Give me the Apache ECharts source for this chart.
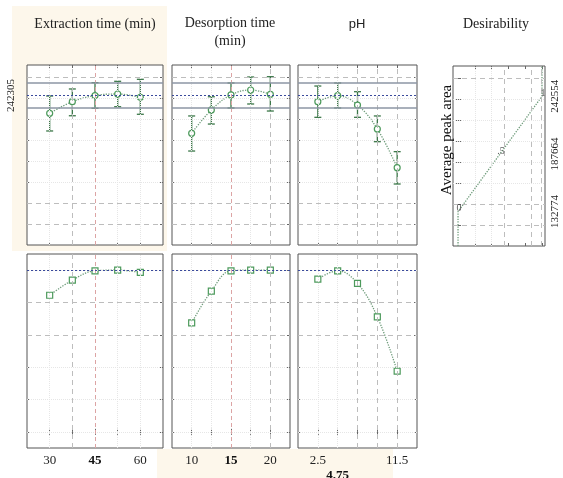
<!DOCTYPE html>
<html><head><meta charset="utf-8">
<script src="https://cdn.jsdelivr.net/npm/echarts@6/dist/echarts.min.js"></script>
<style>html,body{margin:0;padding:0;background:#fff}#c{width:563px;height:478px}</style>
</head><body><div id="c"></div>
<script>
// ---------- data ----------
const extLevels = [30, 37.5, 45, 52.5, 60];
const extMean = [225400, 236500, 242300, 243800, 240700];
const extLow  = [208600, 223100, 230200, 231700, 224500];
const extHigh = [241900, 248600, 254600, 255900, 257800];
const extDesir = [0.845, 0.938, 0.996, 1.0, 0.986];

const desLevels = [10, 12.5, 15, 17.5, 20];
const desMean = [206400, 228600, 242900, 247600, 243500];
const desLow  = [189500, 215200, 230500, 234300, 227600];
const desHigh = [222900, 241200, 254300, 260000, 260300];
const desDesir = [0.674, 0.870, 0.996, 1.0, 1.0];

const phLevels = [2.5, 4.75, 7, 9.25, 11.5];
const phMean = [236500, 242200, 233300, 210500, 173600];
const phLow  = [221600, 230500, 221600, 198400, 158100];
const phHigh = [251400, 254300, 246000, 222900, 188900];
const phDesir = [0.944, 0.996, 0.918, 0.711, 0.375];

const optimumValue = 242305;
const ciLow = 230480, ciHigh = 254290;
const optimumDesir = 0.998;
const desirValues = [132774, 187664, 242554];
const desirScores = [0, 0.5, 1];
const desirScoreLabels = ['0', '.5', '1'];
const factorTitles = ['Extraction time (min)', 'Desorption time\n(min)', 'pH', 'Desirability'];
const xTickLabels = [[30, 45, 60], [10, 15, 20], [2.5, 4.75, 11.5]];
const boldTicks = [45, 15, 4.75];
const responseName = 'Average peak area';
const responseTicks = [120000, 140000, 160000, 180000, 200000, 220000, 240000, 260000];
const desirTicks = [0, 0.2, 0.4, 0.6, 0.8, 1.0];

// ---------- layout / styles ----------
const SERIF = 'Liberation Serif';
const GREEN = '#4d9a5c', BAR = '#3b7748', CURVE = '#6f9c7b';
const respRange = [100000, 271430];
const desRange = [-0.1, 1.1];
const xRanges = [[22.5, 67.5], [7.5, 22.5], [0.25, 13.75], [-0.06, 1.036]];
const grids = [
  {left: 27, top: 65, width: 136, height: 180},
  {left: 172, top: 65, width: 118, height: 180},
  {left: 298, top: 65, width: 119, height: 180},
  {left: 453, top: 66, width: 92, height: 180},
  {left: 27, top: 254, width: 136, height: 194},
  {left: 172, top: 254, width: 118, height: 194},
  {left: 298, top: 254, width: 119, height: 194}
];
const ST = {
  light: {color: '#e6e6e6', type: 'dotted', width: 1},
  dash: {color: '#bdbdbd', type: [5, 4], width: 1},
  red: {color: '#dca4a4', type: [4, 3], width: 1},
  ci: {color: '#8c96a4', type: 'solid', width: 1.5},
  opt: {color: '#3a4a9c', type: [2, 2], width: 1}
};
const levelsAll = [extLevels, desLevels, phLevels];
const vStyles = [
  ['light', 'dash', 'red', 'light', 'light'],
  ['light', 'light', 'red', 'light', 'dash'],
  ['light', 'light', 'dash', 'dash', 'dash']
];

const xAxis = [], yAxis = [];
const tick = {show: true, inside: true, length: 3, lineStyle: {color: '#666'}};
const labelBase = {fontFamily: SERIF, fontSize: 13, color: '#222', hideOverlap: false};
grids.forEach((g, i) => {
  const f = i === 3 ? 3 : (i < 3 ? i : i - 4);
  const isBottom = i >= 4;
  const xr = xRanges[f];
  const xt = f === 3 ? desirTicks.slice(1) : levelsAll[f];
  const yr = isBottom ? desRange : respRange;
  const yt = isBottom ? desirTicks : responseTicks;
  const base = {gridIndex: i, type: 'value', axisLine: {show: false}, splitLine: {show: false}};
  const xb = Object.assign({}, base, {min: xr[0], max: xr[1], position: 'bottom',
    axisTick: Object.assign({customValues: xt}, tick), axisLabel: {show: false}});
  if (isBottom) {
    const labs = xTickLabels[f].filter(v => !(f === 2 && v === boldTicks[f]));
    xb.axisLabel = Object.assign({show: true, customValues: labs, margin: 6,
      formatter: v => (v === boldTicks[f] ? '{b|' + v + '}' : String(v)),
      rich: {b: {fontFamily: SERIF, fontSize: 13, fontWeight: 'bold', color: '#111'}}}, labelBase);
  }
  xAxis.push(xb);
  xAxis.push(Object.assign({}, base, {min: xr[0], max: xr[1], position: 'top',
    axisTick: Object.assign({customValues: xt}, tick), axisLabel: {show: false}}));
  const yl = Object.assign({}, base, {min: yr[0], max: yr[1], position: 'left',
    axisTick: Object.assign({customValues: yt}, tick), axisLabel: {show: false}});
  if (i === 0) {
    yl.axisLabel = {show: true, customValues: [optimumValue], rotate: 90, margin: 10,
      fontFamily: SERIF, fontSize: 11, color: '#222', formatter: v => String(v)};
  }
  yAxis.push(yl);
  const yrt = Object.assign({}, base, {min: yr[0], max: yr[1], position: 'right',
    axisTick: Object.assign({customValues: yt}, tick), axisLabel: {show: false}});
  if (i === 3) {
    yrt.axisLabel = {show: true, customValues: desirValues, rotate: 90, margin: 5,
      fontFamily: SERIF, fontSize: 11, color: '#222', formatter: v => String(v)};
  }
  yAxis.push(yrt);
});
// extra lowered axis for the pH optimum label (4.75), offset below the row of tick labels
xAxis.push({gridIndex: 6, type: 'value', min: xRanges[2][0], max: xRanges[2][1], position: 'bottom', offset: 15,
  axisLine: {show: false}, axisTick: {show: false}, splitLine: {show: false},
  axisLabel: Object.assign({show: true, customValues: [boldTicks[2]], margin: 6, formatter: v => String(v)},
    labelBase, {fontWeight: 'bold', color: '#111'})});

const series = [];
function lines(gi, xList, yList) {
  const groups = {};
  xList.forEach(([v, s]) => (groups[s] = groups[s] || []).push({xAxis: v}));
  yList.forEach(([v, s]) => (groups[s] = groups[s] || []).push({yAxis: v}));
  const order = ['light', 'dash', 'red', 'ci', 'opt'];
  order.forEach((s, k) => {
    if (!groups[s]) return;
    series.push({type: 'line', xAxisIndex: 2 * gi, yAxisIndex: 2 * gi, data: [], z: 1 + k * 0.01,
      markLine: {silent: true, symbol: ['none', 'none'], label: {show: false}, animation: false,
        lineStyle: Object.assign({}, ST[s]), emphasis: {disabled: true}, data: groups[s]}});
  });
}
function errBars(gi, levels, lo, hi) {
  return {type: 'custom', xAxisIndex: 2 * gi, yAxisIndex: 2 * gi, z: 3,
    data: levels.map((l, k) => [l, lo[k], hi[k]]),
    renderItem(params, api) {
      const x = api.value(0);
      const p1 = api.coord([x, api.value(1)]), p2 = api.coord([x, api.value(2)]);
      const c = 3.5, st = {stroke: BAR, lineWidth: 1.3};
      return {type: 'group', children: [
        {type: 'line', shape: {x1: p1[0], y1: p1[1], x2: p2[0], y2: p2[1]}, style: st},
        {type: 'line', shape: {x1: p1[0] - c, y1: p1[1], x2: p1[0] + c, y2: p1[1]}, style: st},
        {type: 'line', shape: {x1: p2[0] - c, y1: p2[1], x2: p2[0] + c, y2: p2[1]}, style: st}
      ]};
    }};
}
function profile(gi, levels, vals, symbol) {
  return {type: 'line', xAxisIndex: 2 * gi, yAxisIndex: 2 * gi, z: 4, smooth: 0.4,
    data: levels.map((l, k) => [l, vals[k]]),
    symbol: symbol, symbolSize: 6, itemStyle: {color: '#fff', borderColor: GREEN, borderWidth: 1.2},
    lineStyle: {color: CURVE, type: 'dotted', width: 1.3}};
}

const means = [extMean, desMean, phMean], lows = [extLow, desLow, phLow], highs = [extHigh, desHigh, phHigh];
const desirs = [extDesir, desDesir, phDesir];
for (let f = 0; f < 3; f++) {
  const vx = levelsAll[f].map((l, k) => [l, vStyles[f][k]]);
  const topY = responseTicks.map(v => [v, (v === 260000 || v === 140000 || v === 120000) ? 'dash' : 'light']);
  topY.push([ciHigh, 'ci'], [ciLow, 'ci'], [optimumValue, 'opt']);
  lines(f, vx, topY);
  series.push(errBars(f, levelsAll[f], lows[f], highs[f]));
  series.push(profile(f, levelsAll[f], means[f], 'circle'));
  const botY = desirTicks.map(v => [v, (v === 0.6 || v === 0.8) ? 'dash' : 'light']);
  botY.push([optimumDesir, 'opt']);
  lines(f + 4, vx, botY);
  series.push(profile(f + 4, levelsAll[f], desirs[f], 'rect'));
}
// desirability function panel
lines(3,
  [[0.2, 'light'], [0.4, 'light'], [0.548, 'dash'], [0.871, 'dash'], [0.99, 'dash']],
  [[260000, 'dash'], [140000, 'dash'], [120000, 'dash'], [240000, 'light'], [220000, 'light'], [200000, 'light'], [180000, 'light'], [160000, 'light']]);
series.push({type: 'line', xAxisIndex: 6, yAxisIndex: 6, z: 4, symbol: 'none',
  lineStyle: {color: CURVE, type: 'dotted', width: 1.3},
  data: [[desirScores[0], respRange[0]]]
    .concat(desirScores.map((d, k) => [d, desirValues[k]]))
    .concat([[desirScores[2], respRange[1]]])});
series.push({type: 'scatter', xAxisIndex: 6, yAxisIndex: 6, z: 5, symbolSize: 0,
  data: desirScores.map((d, k) => ({value: [d, desirValues[k]], label: {formatter: desirScoreLabels[k]}})),
  label: {show: true, position: 'inside', offset: [1, -3], fontFamily: SERIF, fontSize: 10, color: '#333'}});

const titleCenters = [[95, 24], [230, 32], [357, 24], [496, 24]];
const graphic = [
  {type: 'rect', z: -100, shape: {x: 12, y: 6, width: 155, height: 245}, style: {fill: '#fdf7eb'}},
  {type: 'rect', z: -100, shape: {x: 157, y: 449, width: 236, height: 29}, style: {fill: '#fdf7eb'}},
  {type: 'text', x: 447, y: 140, rotation: Math.PI / 2,
    style: {text: responseName, font: '15px "Liberation Serif"', fill: '#111', align: 'center', verticalAlign: 'middle'}}
];
factorTitles.forEach((t, k) => {
  graphic.push({type: 'text', x: titleCenters[k][0], y: titleCenters[k][1],
    style: {text: t, font: (k === 2 ? '13px "Liberation Sans"' : '14px "Liberation Serif"'), fill: '#222',
      align: 'center', verticalAlign: 'middle', lineHeight: 18}});
});

const chart = echarts.init(document.getElementById('c'));
chart.setOption({
  animation: false,
  backgroundColor: '#fff',
  grid: grids.map(g => Object.assign({show: true, borderColor: '#555', borderWidth: 1, backgroundColor: '#fff',
    z: 0, containLabel: false, outerBoundsMode: 'none'}, g)),
  xAxis: xAxis, yAxis: yAxis, series: series, graphic: graphic
});
</script></body></html>
